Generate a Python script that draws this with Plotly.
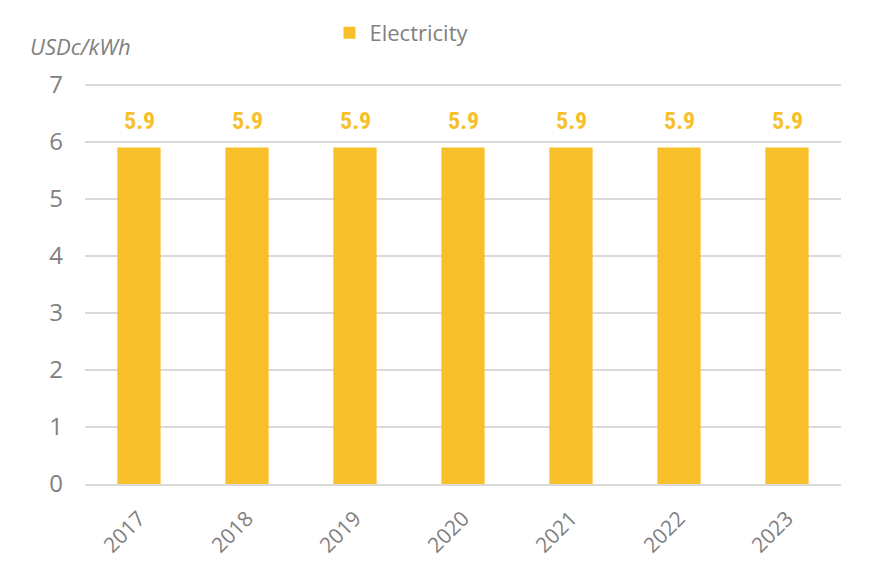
import plotly.graph_objects as go

years = ["2017", "2018", "2019", "2020", "2021", "2022", "2023"]
electricity = [5.9, 5.9, 5.9, 5.9, 5.9, 5.9, 5.9]
y_ticks = [0, 1, 2, 3, 4, 5, 6, 7]

BAR = "#F7BF29"
GRAY = "#808080"
GRID = "#D9D9D9"

fig = go.Figure()
fig.add_trace(go.Bar(
    x=years, y=electricity, name="Electricity",
    marker=dict(color=BAR, line=dict(width=0)),
    hoverinfo="x+y",
))

for i, v in enumerate(electricity):
    fig.add_annotation(
        x=i, y=v, text=f"{v:.1f}", showarrow=False,
        yanchor="bottom", yshift=11,
        font=dict(family="Liberation Sans Narrow, Roboto Condensed, Roboto", size=24, color=BAR, weight="bold"),
    )

fig.add_annotation(
    xref="paper", yref="paper", x=-0.076, y=1.09, xanchor="left", yanchor="middle",
    text="<i>USDc/kWh</i>", showarrow=False,
    font=dict(family="Open Sans", size=22, color=GRAY),
)

fig.update_layout(
    width=865, height=552,
    margin=dict(l=77, r=32, t=74, b=76, autoexpand=False),
    paper_bgcolor="white", plot_bgcolor="white",
    bargap=0.6,
    font=dict(family="Open Sans", color=GRAY),
    showlegend=True,
    legend=dict(
        orientation="h", yref="container", x=0.3234, xanchor="left", y=0.955, yanchor="middle",
        font=dict(size=22, color=GRAY), itemwidth=30,
        bgcolor="rgba(0,0,0,0)",
    ),
    xaxis=dict(
        type="category", range=[-0.5, len(years) - 0.5],
        tickangle=-45, tickfont=dict(size=21, color=GRAY),
        showgrid=False, showline=True, linecolor=GRID, linewidth=2,
        ticks="", ticklabelstandoff=12, fixedrange=True, automargin=False,
    ),
    yaxis=dict(
        range=[0, 7.05], tickvals=y_ticks, tickfont=dict(size=24, color=GRAY),
        showgrid=True, gridcolor=GRID, gridwidth=2,
        zeroline=False, showline=False, ticks="", ticklen=0,
        ticklabelstandoff=21, fixedrange=True, automargin=False,
    ),
)

fig.write_html("out.html")
